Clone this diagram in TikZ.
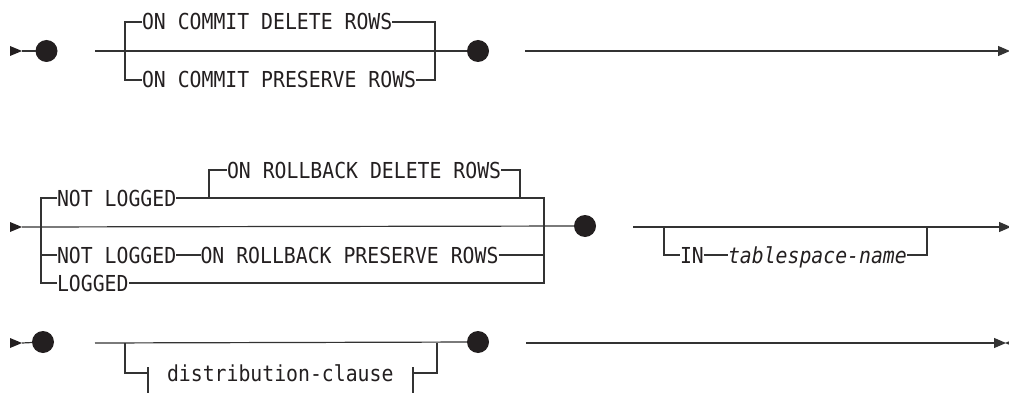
\documentclass[tikz,border=0pt]{standalone}
\usepackage{fontspec}
\newfontfamily\sdmono[FakeStretch=0.9]{DejaVu Sans Mono}
\usetikzlibrary{arrows.meta}
\definecolor{ink}{HTML}{231F20}
\definecolor{rulec}{HTML}{333333}
\begin{document}
\begin{tikzpicture}[x=1pt,y=-1pt,
  ln/.style={draw=rulec, line width=1.2pt},
  lbl/.style={inner sep=0pt, outer sep=0pt, text height=16pt, text depth=0pt, anchor=west, text=ink, font=\sdmono\fontsize{22}{22}\selectfont},
  ilbl/.style={lbl, font=\sdmono\itshape\fontsize{22}{22}\selectfont},
  dot/.style={circle, fill=ink, minimum size=22pt, inner sep=0pt, outer sep=0pt},
  tip/.style={-{Triangle[length=12pt,width=10pt]}},
  starttri/.style={fill=ink}]
\useasboundingbox (0,0) rectangle (1009,393);
\clip (0,0) rectangle (1009,393);
% ---------- row 1
\coordinate (r1s) at (10,51);
\coordinate (r1a) at (22,51);
\node[dot] (d1a) at (46.5,51) {};
\coordinate (r1b) at (95,51);
\node[dot] (d1b) at (478,51) {};
\coordinate (b1l) at (125,51);
\coordinate (b1r) at (435,51);
\node[lbl] (t1a) at (142,22) {ON COMMIT DELETE ROWS};
\node[lbl] (t1b) at (142,80) {ON COMMIT PRESERVE ROWS};
\coordinate (r1c) at (525,51);
\coordinate (r1e) at (1010,51);
\fill[starttri] (r1s) ++(0,-5) -- (r1a) -- ([yshift=-5pt]r1s) -- cycle;
\draw[ln] (r1a) -- (d1a);
\draw[ln] (r1b) -- (d1b);
\draw[ln] (t1a.west) -| (b1l) |- (t1b.west);
\draw[ln] (t1a.east) -| (b1r) |- (t1b.east);
\draw[ln,tip] (r1c) -- (r1e);
% ---------- row 2
\coordinate (r2s) at (10,227);
\coordinate (r2a) at (22,227);
\node[dot] (d2) at (585,226) {};
\coordinate (v2l) at (41,227);
\coordinate (v2r) at (544,227);
\node[lbl] (nl1) at (57,198) {NOT LOGGED};
\node[lbl] (ord) at (227,170) {ON ROLLBACK DELETE ROWS};
\coordinate (b2l) at (209,198);
\coordinate (b2r) at (520,198);
\node[lbl] (nl2) at (57,255) {NOT LOGGED};
\node[lbl] (orp) at (200.5,255) {ON ROLLBACK PRESERVE ROWS};
\node[lbl] (lg) at (57,283) {LOGGED};
\fill[starttri] (r2s) ++(0,-5) -- (r2a) -- ([yshift=-5pt]r2s) -- cycle;
\draw[ln] (r2a) -- (d2);
\draw[ln] (nl1.west) -| (v2l) |- (lg.west);
\draw[ln] (v2l) |- (nl2.west);
\draw[ln] (nl1.east) -| (v2r) |- (lg.east);
\draw[ln] (nl2.east) -- (orp.west);
\draw[ln] (orp.east) -| (v2r);
\draw[ln] (b2l) |- (ord.west);
\draw[ln] (ord.east) -| (b2r);
\coordinate (r2c) at (633,227);
\coordinate (r2e) at (1011,227);
\coordinate (b3l) at (664,227);
\coordinate (b3r) at (927,227);
\node[lbl] (in) at (680,255) {IN};
\node[ilbl] (ts) at (728,255) {tablespace-name};
\draw[ln,tip] (r2c) -- (r2e);
\draw[ln] (b3l) |- (in.west);
\draw[ln] (in.east) -- (ts.west);
\draw[ln] (ts.east) -| (b3r);
% ---------- row 3
\coordinate (r3s) at (10,343);
\coordinate (r3a) at (22,343);
\node[dot] (d3a) at (43,342) {};
\coordinate (r3b) at (95,343);
\node[dot] (d3b) at (478,342) {};
\coordinate (b4l) at (125,343);
\coordinate (c4l) at (148,373);
\coordinate (k4l1) at (148,367);
\coordinate (k4l2) at (148,394);
\node[lbl] (dc) at (167,373) {distribution-clause};
\coordinate (k4r1) at (413,367);
\coordinate (k4r2) at (413,394);
\coordinate (c4r) at (413,373);
\coordinate (b4r) at (437,343);
\fill[starttri] (r3s) ++(0,-5) -- (r3a) -- ([yshift=-5pt]r3s) -- cycle;
\draw[ln] (r3a) -- (d3a);
\draw[ln] (r3b) -- (d3b);
\draw[ln] (b4l) |- (c4l);
\draw[ln] (k4l1) -- (k4l2);
\draw[ln] (k4r1) -- (k4r2);
\draw[ln] (c4r) -| (b4r);
\coordinate (r3c) at (526,343);
\coordinate (r3e) at (1006,343);
\coordinate (r3x) at (1018,343);
\coordinate (r3y) at (1005,343);
\draw[ln,tip] (r3c) -- (r3e);
\draw[ln,tip] (r3x) -- (r3y);
\end{tikzpicture}
\end{document}
